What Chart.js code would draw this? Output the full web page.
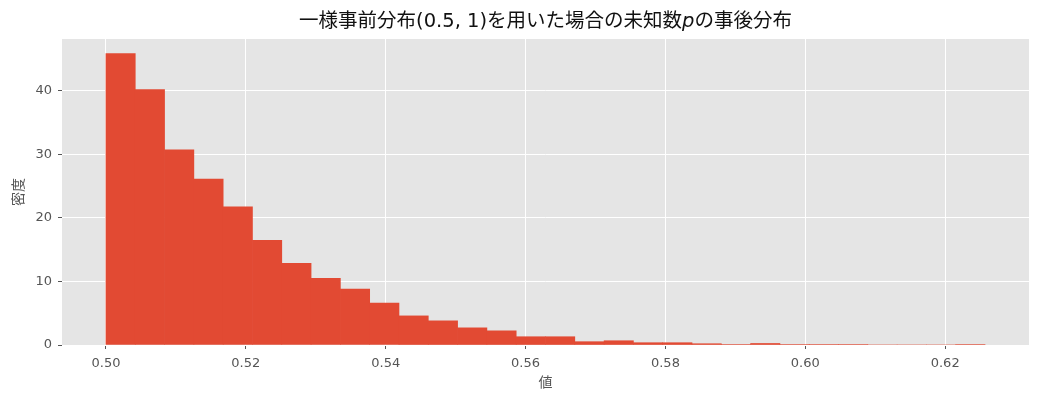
<!DOCTYPE html>
<html lang="ja">
<head>
<meta charset="utf-8">
<title>一様事前分布(0.5, 1)を用いた場合の未知数pの事後分布</title>
<script src="https://cdn.jsdelivr.net/npm/chart.js@4.4.1/dist/chart.umd.min.js"></script>
<style>
    html, body {
        margin: 0;
        padding: 0;
        background: #ffffff;
    }
    .wrap {
        position: relative;
        width: 1039px;
        height: 403px;
    }
    .chart-title {
        position: absolute;
        top: 8px;
        left: 62px;
        width: 967px;
        text-align: center;
        font-family: "DejaVu Sans", "Noto Sans CJK JP", sans-serif;
        font-size: 19.5px;
        line-height: 26px;
        color: #111111;
        white-space: nowrap;
    }
</style>
</head>
<body>
<div class="wrap">
    <div class="chart-title">一様事前分布(0.5, 1)を用いた場合の未知数<i>p</i>の事後分布</div>
    <canvas id="histChart" width="1039" height="403"></canvas>
</div>
<script>
// histogram bins (left edge of first bin, width of each bin)
const binStart = 0.5;
const binWidth = 0.00419;

// density, one value per bin
const densities = [
    45.85, 40.2, 30.7, 26.1, 21.75, 16.45, 12.85, 10.5, 8.8, 6.6,
    4.58, 3.8, 2.7, 2.23, 1.3, 1.3, 0.52, 0.67, 0.36, 0.36,
    0.2, 0.08, 0.24, 0.08, 0.08, 0.08, 0, 0, 0, 0.08,
];

const xTicks = [0.50, 0.52, 0.54, 0.56, 0.58, 0.60, 0.62];
const yTicks = [0, 10, 20, 30, 40];

const xLabel = '値';
const yLabel = '密度';

const barColor = '#E24A33';
const panelColor = '#E5E5E5';
const textColor = '#555555';

const points = densities.map((value, i) => ({
    x: binStart + binWidth * (i + 0.5),
    y: value,
}));

const binEnd = binStart + binWidth * densities.length;
const xPad = (binEnd - binStart) * 0.05;
const yMax = Math.max(...densities) * 1.05;

const panelBackground = {
    id: 'panelBackground',
    beforeDraw(chart) {
        const { ctx, chartArea } = chart;
        ctx.save();
        ctx.fillStyle = panelColor;
        ctx.fillRect(chartArea.left, chartArea.top, chartArea.right - chartArea.left, chartArea.bottom - chartArea.top);
        ctx.restore();
    },
};

const tickFont = { family: '"DejaVu Sans", sans-serif', size: 13 };
const labelFont = { family: '"DejaVu Sans", "Noto Sans CJK JP", sans-serif', size: 14 };

new Chart(document.getElementById('histChart'), {
    type: 'bar',
    data: {
        datasets: [
            {
                data: points,
                backgroundColor: barColor,
                borderWidth: 0,
                barPercentage: 1,
                categoryPercentage: 1,
            },
        ],
    },
    options: {
        responsive: false,
        animation: false,
        layout: {
            padding: { top: 39, right: 10, left: 0, bottom: 0 },
        },
        plugins: {
            legend: { display: false },
            title: { display: false },
            tooltip: { enabled: false },
        },
        scales: {
            x: {
                type: 'linear',
                offset: false,
                min: binStart - xPad,
                max: binEnd + xPad,
                grid: {
                    offset: false,
                    color: '#ffffff',
                    lineWidth: 1,
                    tickColor: textColor,
                    tickLength: 4,
                },
                border: { display: false },
                ticks: {
                    color: textColor,
                    font: tickFont,
                    padding: 7,
                    maxRotation: 0,
                    callback: (value) => value.toFixed(2),
                },
                afterBuildTicks: (scale) => {
                    scale.ticks = xTicks.map((v) => ({ value: v }));
                },
                afterFit: (scale) => {
                    scale.height = 58;
                },
                title: {
                    display: true,
                    text: xLabel,
                    color: textColor,
                    font: labelFont,
                    padding: { top: 0, bottom: 11 },
                },
            },
            y: {
                type: 'linear',
                min: 0,
                max: yMax,
                grid: {
                    color: '#ffffff',
                    lineWidth: 1,
                    tickColor: textColor,
                    tickLength: 4,
                },
                border: { display: false },
                ticks: {
                    color: textColor,
                    font: tickFont,
                    padding: 6,
                },
                afterBuildTicks: (scale) => {
                    scale.ticks = yTicks.map((v) => ({ value: v }));
                },
                afterFit: (scale) => {
                    scale.width = 62;
                },
                title: {
                    display: true,
                    text: yLabel,
                    color: textColor,
                    font: labelFont,
                    padding: { top: 11, bottom: 0 },
                },
            },
        },
    },
    plugins: [panelBackground],
});
</script>
</body>
</html>
